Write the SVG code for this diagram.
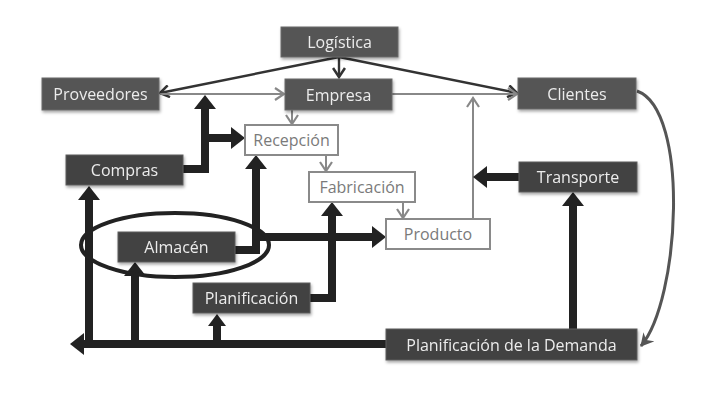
<svg xmlns="http://www.w3.org/2000/svg" width="703" height="412" viewBox="0 0 703 412">
  <defs>
    <filter id="shadow" x="-10%" y="-20%" width="125%" height="160%">
      <feDropShadow dx="1" dy="2" stdDeviation="1.5" flood-color="#000" flood-opacity="0.35"/>
    </filter>
    <marker id="thick" markerUnits="userSpaceOnUse" markerWidth="14" markerHeight="22" viewBox="0 0 14 22" refX="1" refY="11" orient="auto">
      <path d="M0,0 L14,11 L0,22 z" fill="#222"/>
    </marker>
    <marker id="thickSmall" markerUnits="userSpaceOnUse" markerWidth="12" markerHeight="18" viewBox="0 0 12 18" refX="1" refY="9" orient="auto">
      <path d="M0,0 L12,9 L0,18 z" fill="#222"/>
    </marker>
    <marker id="chevGray" markerUnits="userSpaceOnUse" markerWidth="12" markerHeight="14" viewBox="0 0 12 14" refX="10" refY="7" orient="auto">
      <path d="M1,1 L10,7 L1,13" fill="none" stroke="#888" stroke-width="2.2"/>
    </marker>
    <marker id="chevDark" markerUnits="userSpaceOnUse" markerWidth="12" markerHeight="14" viewBox="0 0 12 14" refX="10" refY="7" orient="auto">
      <path d="M1,1 L10,7 L1,13" fill="none" stroke="#333" stroke-width="2.6"/>
    </marker>
    <marker id="curveHead" markerUnits="userSpaceOnUse" markerWidth="14" markerHeight="16" viewBox="0 0 14 16" refX="12" refY="8" orient="auto">
      <path d="M0,1 L13,8 L0,15 L4,8 z" fill="#555"/>
    </marker>
  </defs>
  <style>
    .dark rect { fill: #424242; stroke: #5e5e5e; stroke-width: 1; }
    .mid rect { fill: #555; stroke: #6a6a6a; stroke-width: 1; }
    .light rect { fill: #fff; stroke: #8a8a8a; stroke-width: 2; }
    text { font-family: "Open Sans", "Liberation Sans", sans-serif; font-size: 16px; text-anchor: middle; dominant-baseline: central; }
    .dark text, .mid text { fill: #ececec; }
    .light text { fill: #7a7a7a; }
    .thin { fill: none; stroke: #888; stroke-width: 2; }
    .thinDark { fill: none; stroke: #333; stroke-width: 2.4; }
    .heavy { fill: none; stroke: #222; stroke-width: 8; }
  </style>

  <rect width="703" height="412" fill="#fff"/>

  <!-- connectors -->
  <g id="connectors">
    <!-- Logística fan-out -->
    <path class="thinDark" d="M339,57 L160,93" marker-end="url(#chevDark)"/>
    <path class="thinDark" d="M339,57 L517,93" marker-end="url(#chevDark)"/>
    <path class="thinDark" d="M339,57 V77" marker-end="url(#chevDark)"/>
    <!-- main flow line -->
    <path class="thin" d="M160,94 H284" marker-end="url(#chevGray)"/>
    <path class="thin" d="M392,94 H517" marker-end="url(#chevGray)"/>
    <path class="thin" d="M473,219 V98" marker-end="url(#chevGray)"/>
    <path class="thin" d="M292,110 V124" marker-end="url(#chevGray)"/>
    <path class="thin" d="M326,155 V171" marker-end="url(#chevGray)"/>
    <path class="thin" d="M403,202 V218" marker-end="url(#chevGray)"/>
    <!-- heavy flows -->
    <path class="heavy" d="M183,169 H205 V108" marker-end="url(#thick)"/>
    <path class="heavy" d="M205,138 H232" marker-end="url(#thick)"/>
    <path class="heavy" d="M235,250 H256 V168" marker-end="url(#thick)"/>
    <path class="heavy" d="M256,237 H373" marker-end="url(#thick)"/>
    <path class="heavy" d="M310,298 H332 V215" marker-end="url(#thick)"/>
    <path class="heavy" d="M386,344 H83" marker-end="url(#thick)"/>
    <path class="heavy" d="M89,340 V199" marker-end="url(#thick)"/>
    <path class="heavy" d="M135,340 V275" marker-end="url(#thick)"/>
    <path class="heavy" d="M217,340 V325" marker-end="url(#thickSmall)"/>
    <path class="heavy" d="M573,329 V205" marker-end="url(#thick)"/>
    <path class="heavy" d="M519,177 H486" marker-end="url(#thick)"/>
    <!-- Clientes feedback to demand planning -->
    <path d="M637,91 C690,110 680,300 641,346" fill="none" stroke="#555" stroke-width="3" marker-end="url(#curveHead)"/>
  </g>

  <!-- storage grouping ellipse -->
  <ellipse cx="175" cy="245" rx="94" ry="32" fill="none" stroke="#222" stroke-width="4"/>

  <!-- nodes -->
  <g id="logistica" class="mid" filter="url(#shadow)"><rect x="281" y="27" width="117" height="30"/><text x="339.5" y="42">Logística</text></g>
  <g id="proveedores" class="mid" filter="url(#shadow)"><rect x="42" y="78" width="117" height="32"/><text x="100.5" y="94">Proveedores</text></g>
  <g id="empresa" class="mid" filter="url(#shadow)"><rect x="285" y="79" width="107" height="31"/><text x="338.5" y="94.5">Empresa</text></g>
  <g id="clientes" class="mid" filter="url(#shadow)"><rect x="518" y="78" width="118" height="31"/><text x="577" y="93.5">Clientes</text></g>
  <g id="recepcion" class="light"><rect x="245" y="125" width="93" height="30"/><text x="291.5" y="140">Recepción</text></g>
  <g id="fabricacion" class="light"><rect x="309" y="172" width="106" height="30"/><text x="362" y="187">Fabricación</text></g>
  <g id="producto" class="light"><rect x="386" y="219" width="104" height="30"/><text x="438" y="234">Producto</text></g>
  <g id="compras" class="dark" filter="url(#shadow)"><rect x="66" y="155" width="117" height="30"/><text x="124.5" y="170">Compras</text></g>
  <g id="transporte" class="dark" filter="url(#shadow)"><rect x="519" y="162" width="118" height="30"/><text x="578" y="177">Transporte</text></g>
  <g id="almacen" class="dark" filter="url(#shadow)"><rect x="118" y="232" width="117" height="30"/><text x="176.5" y="247">Almacén</text></g>
  <g id="planificacion" class="dark" filter="url(#shadow)"><rect x="193" y="283" width="117" height="30"/><text x="251.5" y="298">Planificación</text></g>
  <g id="demanda" class="dark" filter="url(#shadow)"><rect x="386" y="329" width="251" height="31"/><text x="511.5" y="344.5">Planificación de la Demanda</text></g>
</svg>
